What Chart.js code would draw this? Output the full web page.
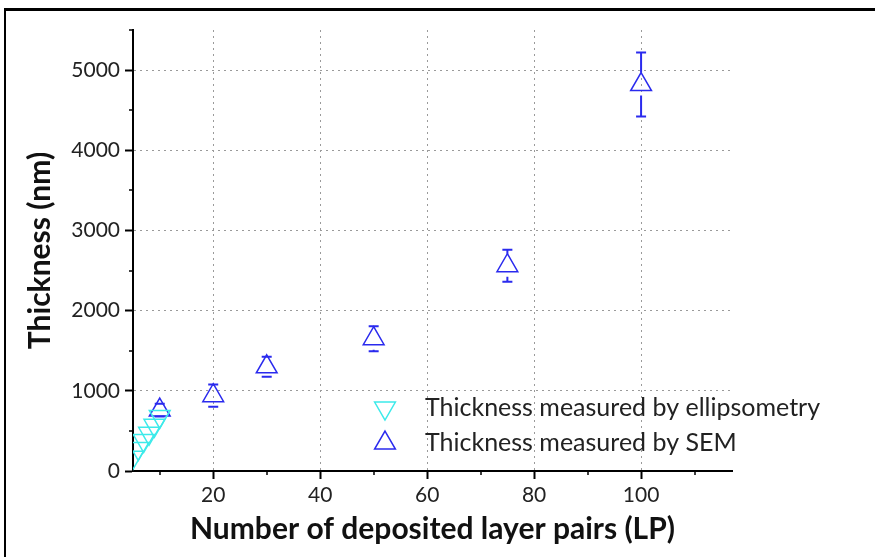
<!DOCTYPE html>
<html>
<head>
<meta charset="utf-8">
<script src="https://cdn.jsdelivr.net/npm/chart.js@4.4.1/dist/chart.umd.min.js"></script>
<style>
  html, body { margin: 0; padding: 0; background: #fff; }
  #wrap { width: 875px; height: 557px; position: relative; }
</style>
</head>
<body>
<div id="wrap"><canvas id="chartCanvas" width="875" height="557"></canvas></div>
<script>
// SEM thickness vs layer pairs (with error bars)
const semPairs = [10, 20, 30, 50, 75, 100];
const semThickness = [760, 940, 1300, 1650, 2560, 4820];
const semError = [80, 140, 125, 155, 200, 400];

// ellipsometry thickness (thin films only)
const ellPairs = [5, 6, 7, 8, 9, 10];
const ellThickness = [170, 280, 380, 470, 570, 680];

const yMajor = [0, 1000, 2000, 3000, 4000, 5000];
const xMajor = [20, 40, 60, 80, 100];

const labels = ['Thickness measured by ellipsometry', 'Thickness measured by SEM'];

const FONT = 'Lato, "Open Sans", sans-serif';
const SEM_COLOR = '#2a2aee';
const ELL_COLOR = '#3deaea';

function toPoints(xs, ys) {
    return xs.map((x, i) => ({ x: x, y: ys[i] }));
}

// vertical error bars, drawn outside the marker like Origin does
const errorBars = {
    id: 'errorBars',
    afterDatasetsDraw(chart) {
        const ctx = chart.ctx;
        const xs = chart.scales.x, ys = chart.scales.y;
        const r = 12;
        ctx.save();
        ctx.strokeStyle = SEM_COLOR;
        ctx.lineWidth = 2;
        semPairs.forEach((p, i) => {
            const px = xs.getPixelForValue(p);
            const pc = ys.getPixelForValue(semThickness[i]);
            const top = ys.getPixelForValue(semThickness[i] + semError[i]);
            const bot = ys.getPixelForValue(semThickness[i] - semError[i]);
            ctx.beginPath();
            if (top < pc - r) { ctx.moveTo(px, top); ctx.lineTo(px, pc - r); }
            if (bot > pc + r * 0.5 + 5) { ctx.moveTo(px, pc + r * 0.5 + 5); ctx.lineTo(px, bot); }
            ctx.moveTo(px - 5, top); ctx.lineTo(px + 5, top);
            ctx.moveTo(px - 5, bot); ctx.lineTo(px + 5, bot);
            ctx.stroke();
        });
        ctx.restore();
    }
};

// minor ticks halfway between the major ones
const minorTicks = {
    id: 'minorTicks',
    afterDraw(chart) {
        const ctx = chart.ctx;
        const xs = chart.scales.x, ys = chart.scales.y;
        ctx.save();
        ctx.strokeStyle = '#000';
        ctx.lineWidth = 1.5;
        ctx.beginPath();
        for (let v = 500; v <= ys.max; v += 1000) {
            const py = Math.round(ys.getPixelForValue(v));
            ctx.moveTo(xs.left - 4, py); ctx.lineTo(xs.left, py);
        }
        for (let v = 10; v <= xs.max; v += 20) {
            const px = Math.round(xs.getPixelForValue(v));
            ctx.moveTo(px, ys.bottom); ctx.lineTo(px, ys.bottom + 4);
        }
        ctx.stroke();
        ctx.restore();
    }
};

// legend sitting inside the plot, plus the black frame of the figure
const insideLegend = {
    id: 'insideLegend',
    afterDraw(chart) {
        const ctx = chart.ctx;
        const area = chart.chartArea;
        const mx = area.left + 252;
        const tx = area.left + 292;
        const rows = [area.bottom - 63, area.bottom - 28];
        ctx.save();
        chart.data.datasets.forEach((ds, i) => {
            ctx.strokeStyle = ds.borderColor;
            ctx.fillStyle = 'rgba(0,0,0,0)';
            ctx.lineWidth = 1.5;
            Chart.helpers.drawPoint(ctx, {
                pointStyle: 'triangle', radius: 12, rotation: ds.rotation, borderWidth: 1.5
            }, mx, rows[i]);
            ctx.fillStyle = '#222';
            ctx.font = '25px ' + FONT;
            ctx.textBaseline = 'middle';
            ctx.fillText(ds.label, tx, rows[i]);
        });

        ctx.fillStyle = '#000';
        ctx.fillRect(4, 8, 871, 3);
        ctx.fillRect(4, 8, 2, 549);
        ctx.restore();
    }
};

const ctx = document.getElementById('chartCanvas').getContext('2d');
const myChart = new Chart(ctx, {
    type: 'scatter',
    data: {
        datasets: [{
            label: labels[0],
            data: toPoints(ellPairs, ellThickness),
            borderColor: ELL_COLOR,
            backgroundColor: 'rgba(0,0,0,0)',
            pointStyle: 'triangle',
            rotation: 180,
            pointRadius: 12,
            pointBorderWidth: 1.5,
            clip: 0
        }, {
            label: labels[1],
            data: toPoints(semPairs, semThickness),
            borderColor: SEM_COLOR,
            backgroundColor: 'rgba(0,0,0,0)',
            pointStyle: 'triangle',
            rotation: 0,
            pointRadius: 12,
            pointBorderWidth: 1.5,
            clip: 0
        }]
    },
    options: {
        responsive: false,
        animation: false,
        events: [],
        layout: { padding: { top: 30, right: 143, left: 0, bottom: 0 } },
        plugins: {
            legend: { display: false },
            tooltip: { enabled: false }
        },
        scales: {
            x: {
                type: 'linear',
                min: 5,
                max: 117,
                afterBuildTicks: axis => { axis.ticks = xMajor.map(v => ({ value: v })); },
                afterFit: axis => { axis.height = 86; },
                grid: {
                    color: '#9a9a9a',
                    lineWidth: 1,
                    tickLength: 8,
                    tickColor: '#000',
                    tickWidth: 2,
                    tickBorderDash: []
                },
                border: { color: '#000', width: 2, dash: [2, 4] },
                ticks: {
                    color: '#222',
                    padding: 4,
                    maxRotation: 0,
                    callback: v => String(v),
                    font: { family: FONT, size: 21 }
                },
                title: {
                    display: true,
                    text: 'Number of deposited layer pairs (LP)',
                    color: '#111',
                    font: { family: FONT, size: 30, weight: 'bold' },
                    padding: { top: 0, bottom: 10 }
                }
            },
            y: {
                type: 'linear',
                min: 0,
                max: 5500,
                afterBuildTicks: axis => { axis.ticks = yMajor.map(v => ({ value: v })); },
                afterFit: axis => { axis.width = 133; },
                grid: {
                    color: '#9a9a9a',
                    lineWidth: 1,
                    tickLength: 8,
                    tickColor: '#000',
                    tickWidth: 2,
                    tickBorderDash: []
                },
                border: { color: '#000', width: 2, dash: [2, 4] },
                ticks: {
                    color: '#222',
                    padding: 5,
                    callback: v => String(v),
                    font: { family: FONT, size: 21 }
                },
                title: {
                    display: true,
                    text: 'Thickness (nm)',
                    color: '#111',
                    font: { family: FONT, size: 30, weight: 'bold' },
                    padding: { top: 22, bottom: 0 }
                }
            }
        }
    },
    plugins: [errorBars, minorTicks, insideLegend]
});
</script>
</body>
</html>
